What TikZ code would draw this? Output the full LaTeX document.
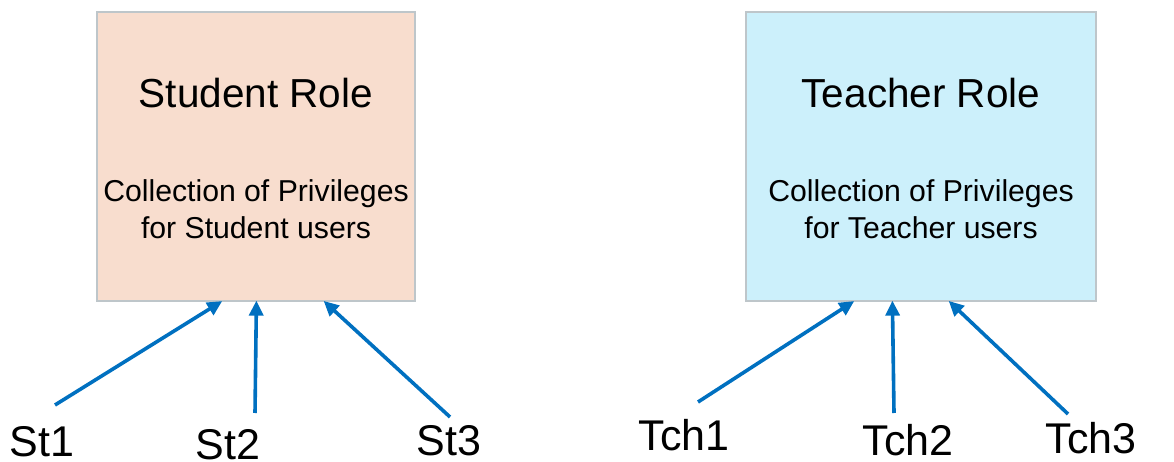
\documentclass[tikz,border=0pt]{standalone}
\usepackage{fontspec}
\setmainfont{Liberation Sans}
\usetikzlibrary{arrows.meta}
\definecolor{peach}{RGB}{248,221,206}
\definecolor{skyc}{RGB}{204,240,251}
\definecolor{edgegray}{RGB}{190,198,202}
\definecolor{arrowblue}{RGB}{0,112,192}
\tikzset{
  rolebox/.style={draw=edgegray, line width=1.2pt, inner sep=0pt},
  roletitle/.style={anchor=base, inner sep=0pt, font=\fontsize{40.5}{48}\selectfont},
  rolesub/.style={anchor=base, inner sep=0pt, align=center, font=\fontsize{30.2}{37}\selectfont},
  userlabel/.style={anchor=base, inner sep=0pt, font=\fontsize{43}{50}\selectfont},
  link/.style={draw=arrowblue, line width=3.6pt, -{Triangle[length=15pt,width=14pt]}, shorten >=-1pt}
}
\begin{document}
\begin{tikzpicture}[x=1pt,y=-1pt]
\useasboundingbox (0,0) rectangle (1174,462);
% boxes
\node[rolebox, fill=peach, minimum width=318pt, minimum height=289pt] (sbox) at (256,156.5) {};
\node[rolebox, fill=skyc, minimum width=350pt, minimum height=289pt] (tbox) at (921,156.5) {};
% texts
\node[roletitle] (stitle) at (256,108) {Student Role};
\node[rolesub] (ssub) at (256,239) {Collection of Privileges\\for Student users};
\node[roletitle] (ttitle) at (921,108) {Teacher Role};
\node[rolesub] (tsub) at (921,239) {Collection of Privileges\\for Teacher users};
% user labels
\node[userlabel] (st1) at (42,456) {St1};
\node[userlabel] (st2) at (228,459) {St2};
\node[userlabel] (st3) at (449,455) {St3};
\node[userlabel] (tch1) at (684,450) {Tch1};
\node[userlabel] (tch2) at (908,455) {Tch2};
\node[userlabel] (tch3) at (1091,453) {Tch3};
% arrow tails
\coordinate (a1) at (55,405);
\coordinate (a2) at (255,413);
\coordinate (a3) at (450,417);
\coordinate (b1) at (698,402);
\coordinate (b2) at (894,413);
\coordinate (b3) at (1068,414);
% arrow heads on box bottoms
\coordinate (h1) at ([xshift=125pt]sbox.south west);
\coordinate (h2) at ([xshift=160pt]sbox.south west);
\coordinate (h3) at ([xshift=228pt]sbox.south west);
\coordinate (k1) at ([xshift=108pt]tbox.south west);
\coordinate (k2) at ([xshift=147pt]tbox.south west);
\coordinate (k3) at ([xshift=204pt]tbox.south west);
\draw[link] (a1) -- (h1);
\draw[link] (a2) -- (h2);
\draw[link] (a3) -- (h3);
\draw[link] (b1) -- (k1);
\draw[link] (b2) -- (k2);
\draw[link] (b3) -- (k3);
\end{tikzpicture}
\end{document}
